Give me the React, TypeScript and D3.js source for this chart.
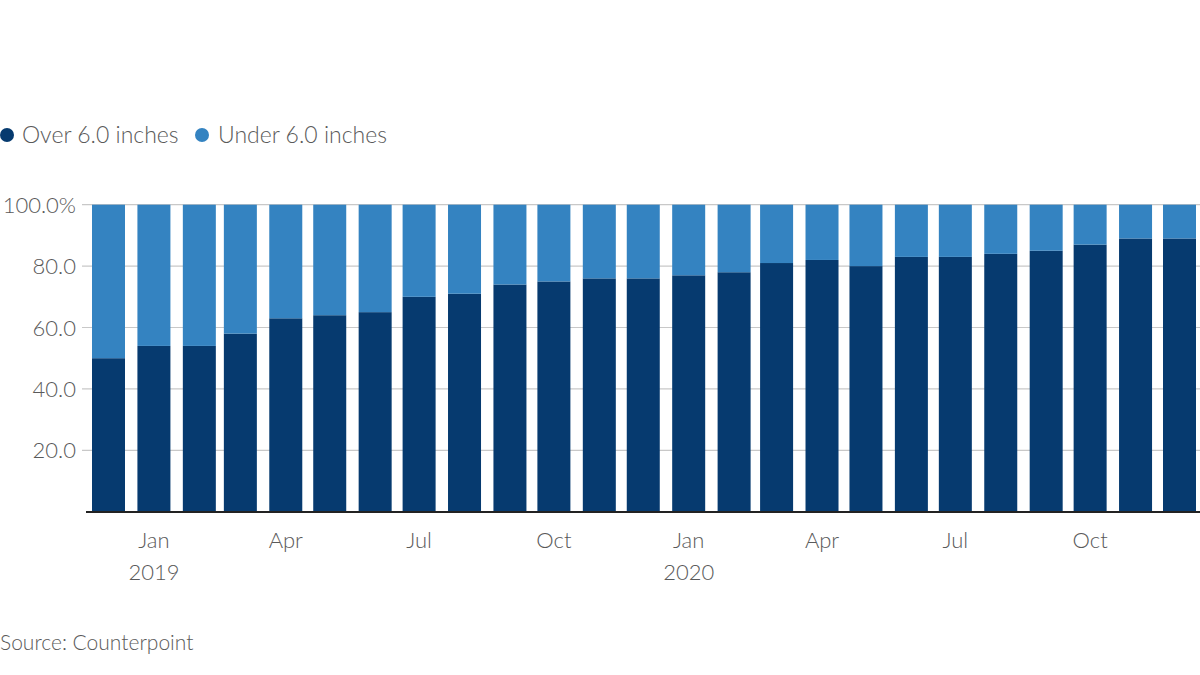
import React from 'react';
import * as d3 from 'd3';

// monthly share of smartphone shipments by screen size (%)
const months = [
  '2018-12', '2019-01', '2019-02', '2019-03', '2019-04', '2019-05', '2019-06',
  '2019-07', '2019-08', '2019-09', '2019-10', '2019-11', '2019-12',
  '2020-01', '2020-02', '2020-03', '2020-04', '2020-05', '2020-06',
  '2020-07', '2020-08', '2020-09', '2020-10', '2020-11', '2020-12',
];
const overSix = [50, 54, 54, 58, 63, 64, 65, 70, 71, 74, 75, 76, 76, 77, 78, 81, 82, 80, 83, 83, 84, 85, 87, 89, 89];
const underSix = [50, 46, 46, 42, 37, 36, 35, 30, 29, 26, 25, 24, 24, 23, 22, 19, 18, 20, 17, 17, 16, 15, 13, 11, 11];

const yTicks = [20, 40, 60, 80, 100];
const xTickMonths = ['2019-01', '2019-04', '2019-07', '2019-10', '2020-01', '2020-04', '2020-07', '2020-10'];
const monthNames = ['Jan', 'Feb', 'Mar', 'Apr', 'May', 'Jun', 'Jul', 'Aug', 'Sep', 'Oct', 'Nov', 'Dec'];

const DARK = '#063a6f';
const LIGHT = '#3483c1';
const TEXT = '#5a5a5a';
const FONT = 'Lato, "Noto Sans", sans-serif';

const parse = d3.utcParse('%Y-%m');

export default function App() {
  const width = 1200;
  const height = 675;
  const barW = 33;

  const dates = months.map(m => parse(m) as Date);
  const x = d3.scaleUtc()
    .domain([dates[0], dates[dates.length - 1]])
    .range([92, 1163]);
  const y = d3.scaleLinear().domain([0, 100]).range([511.7, 204.7]);

  return (
    <svg width={width} height={height} style={{ position: 'absolute', left: 0, top: 0, background: '#fff' }}
      fontFamily={FONT} fontWeight={300}>
      {/* legend */}
      <g>
        <circle cx={7} cy={135} r={7} fill={DARK} />
        <text x={22} y={143} fontSize={23} fill={TEXT}>Over 6.0 inches</text>
        <circle cx={202} cy={135} r={7} fill={LIGHT} />
        <text x={218} y={143} fontSize={23} fill={TEXT}>Under 6.0 inches</text>
      </g>

      {/* gridlines */}
      {yTicks.map(t => (
        <line key={t} x1={82} x2={width} y1={y(t)} y2={y(t)} stroke="#c8c8c8" strokeWidth={1.2} />
      ))}
      {yTicks.map(t => (
        <text key={'l' + t} x={76} y={y(t) + 8} textAnchor="end" fontSize={22} fill={TEXT}>
          {t === 100 ? '100.0%' : t.toFixed(1)}
        </text>
      ))}

      {/* stacked bars */}
      {dates.map((d, i) => (
        <g key={months[i]}>
          <rect x={x(d)} width={barW} y={y(overSix[i])} height={y(0) - y(overSix[i])} fill={DARK} />
          <rect x={x(d)} width={barW} y={y(overSix[i] + underSix[i])}
            height={y(overSix[i]) - y(overSix[i] + underSix[i])} fill={LIGHT} />
        </g>
      ))}

      {/* baseline */}
      <line x1={86} x2={width} y1={512} y2={512} stroke="#222" strokeWidth={2} />

      {/* x labels */}
      {xTickMonths.map(m => {
        const d = parse(m) as Date;
        const cx = x(d) + barW / 2;
        const mo = d.getUTCMonth();
        return (
          <g key={m}>
            <text x={cx} y={548} textAnchor="middle" fontSize={22} fill={TEXT}>{monthNames[mo]}</text>
            {mo === 0 && (
              <text x={cx} y={580} textAnchor="middle" fontSize={22} fill={TEXT}>{d.getUTCFullYear()}</text>
            )}
          </g>
        );
      })}

      <text x={0} y={650} fontSize={21} fill={TEXT}>Source: Counterpoint</text>
    </svg>
  );
}
